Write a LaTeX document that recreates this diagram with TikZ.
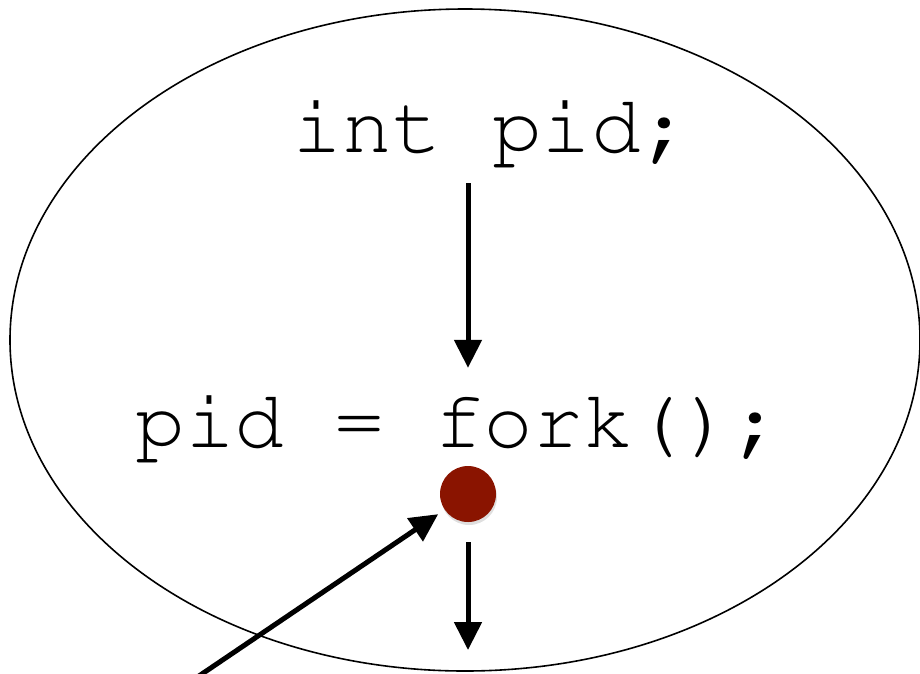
\documentclass[tikz,border=0pt]{standalone}
\usepackage[T1]{fontenc}
\usetikzlibrary{positioning,arrows.meta,calc,shadows}
\definecolor{forkred}{RGB}{138,20,0}
\tikzset{
  >=Stealth,
}

\begin{document}
\begin{tikzpicture}[x=1pt, y=-1pt,
  code/.style={font=\fontfamily{pcr}\fontsize{83}{90}\selectfont, inner sep=0pt, anchor=base},
  arr/.style={-{Triangle[length=28pt, width=27pt]}, line width=5pt},
  dot/.style={circle, fill=forkred, minimum size=56pt, inner sep=0pt, outer sep=0pt,
    drop shadow={opacity=0.25, shadow xshift=1pt, shadow yshift=-3pt}}
]
  \useasboundingbox (0,0) rectangle (920,673);
  % process boundary
  \draw[line width=1.6pt] (465,340) ellipse [x radius=455, y radius=331];
  % statements
  \node[code, text depth=31pt] (decl) at (492,152) {int pid;};
  \node[code, text height=79pt] (call) at (459,447) {pid = fork();};
  \node[dot] (forkpt) at (468,494) {};
  \coordinate (entry) at (193,680);
  \coordinate (exit) at (468,650);
  \draw[arr] (decl.south -| forkpt) -- (call.north -| forkpt);
  \draw[arr, shorten <=20pt] (forkpt) -- (exit);
  \draw[arr, shorten >=8pt] (entry) -- (forkpt);
\end{tikzpicture}
\end{document}
